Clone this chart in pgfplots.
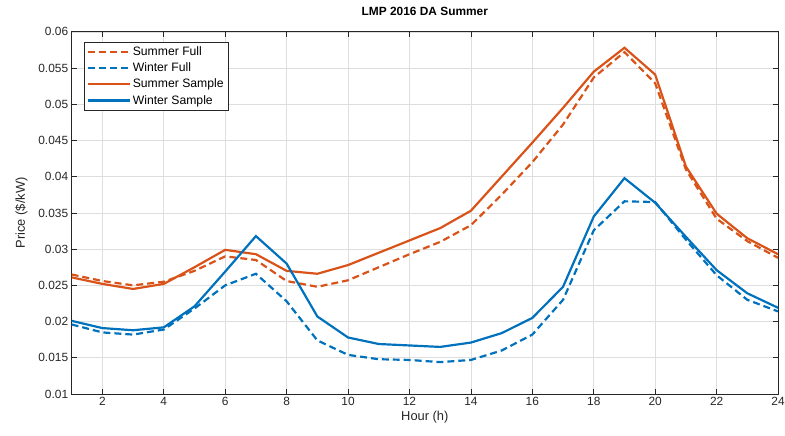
\documentclass[border=0pt]{standalone}
\usepackage{fontspec}
\setmainfont{Liberation Sans}
\usepackage{pgfplots}
\pgfplotsset{compat=1.18}
\definecolor{mlorange}{RGB}{217,83,25}
\definecolor{mlblue}{RGB}{0,114,189}
\definecolor{axgray}{RGB}{38,38,38}
\definecolor{gridgray}{RGB}{222,222,222}

\begin{document}
\begin{tikzpicture}
\begin{axis}[
  at={(0,0)}, anchor=south west,
  scale only axis,
  width=710bp, height=364bp,
  xmin=1, xmax=24, ymin=0.01, ymax=0.06,
  xtick={2,4,...,24},
  ytick={0.01,0.015,...,0.0601},
  yticklabels={0.01,0.015,0.02,0.025,0.03,0.035,0.04,0.045,0.05,0.055,0.06},
  scaled y ticks=false,
  grid=major,
  major grid style={gridgray, line width=0.6bp},
  tick align=inside,
  major tick length=5bp,
  tick style={axgray, line width=0.8bp},
  axis line style={axgray, line width=0.8bp},
  ticklabel style={font=\fontsize{12}{14}\selectfont, text=axgray},
  /pgf/number format/assume math mode=true,
  title={\textbf{LMP 2016 DA Summer}},
  title style={font=\fontsize{12}{14}\selectfont, text=black, at={(0.5,1)}, anchor=south, yshift=7bp},
  xlabel={Hour (h)},
  ylabel={Price (\$/kW)},
  label style={font=\fontsize{13}{15}\selectfont, text=axgray},
  xlabel style={yshift=2bp},
  ylabel style={yshift=4bp},
  legend cell align=left,
  legend style={at={(0.0169,0.9725)}, anchor=north west,
    font=\fontsize{12.3}{14}\selectfont, draw=axgray, line width=0.6bp,
    inner xsep=3bp, inner ysep=2.5bp, row sep=2bp},
  legend image code/.code={\draw[#1] (0bp,0bp) -- (42bp,0bp);},
  every axis plot/.append style={line width=2.2bp},
]
% Summer, full data set
\addplot[mlorange, dash pattern=on 7bp off 4bp] coordinates {
(1,0.0265) (2,0.0256) (3,0.0250) (4,0.0255) (5,0.0270) (6,0.0290)
(7,0.0285) (8,0.0256) (9,0.0248) (10,0.0257) (11,0.0275) (12,0.0293)
(13,0.0310) (14,0.0333) (15,0.0375) (16,0.0420) (17,0.0472) (18,0.0537)
(19,0.0572) (20,0.0529) (21,0.0410) (22,0.0342) (23,0.0311) (24,0.0288)};
\addlegendentry{Summer Full}
% Winter, full data set
\addplot[mlblue, dash pattern=on 7bp off 4bp] coordinates {
(1,0.0196) (2,0.0185) (3,0.0182) (4,0.0189) (5,0.0218) (6,0.0250)
(7,0.0266) (8,0.0228) (9,0.0174) (10,0.0154) (11,0.0148) (12,0.0147)
(13,0.0144) (14,0.0147) (15,0.0160) (16,0.0182) (17,0.0230) (18,0.0326)
(19,0.0366) (20,0.0365) (21,0.0313) (22,0.0264) (23,0.0230) (24,0.0214)};
\addlegendentry{Winter Full}
% Summer, sampled days
\addplot[mlorange] coordinates {
(1,0.0261) (2,0.0252) (3,0.0245) (4,0.0252) (5,0.0275) (6,0.0299)
(7,0.0293) (8,0.0270) (9,0.0266) (10,0.0278) (11,0.0295) (12,0.0312)
(13,0.0329) (14,0.0353) (15,0.0400) (16,0.0447) (17,0.0495) (18,0.0545)
(19,0.0578) (20,0.0541) (21,0.0414) (22,0.0349) (23,0.0315) (24,0.0293)};
\addlegendentry{Summer Sample}
% Winter, sampled days
\addplot[mlblue] coordinates {
(1,0.0201) (2,0.0191) (3,0.0188) (4,0.0192) (5,0.0221) (6,0.0269)
(7,0.0318) (8,0.0280) (9,0.0207) (10,0.0178) (11,0.0169) (12,0.0167)
(13,0.0165) (14,0.0171) (15,0.0184) (16,0.0205) (17,0.0248) (18,0.0345)
(19,0.0398) (20,0.0364) (21,0.0317) (22,0.0271) (23,0.0239) (24,0.0219)};
\addlegendentry{Winter Sample}
\end{axis}
\pgfresetboundingbox
\path[use as bounding box] (-72bp,-42bp) rectangle (717bp,396bp);
\end{tikzpicture}
\end{document}
